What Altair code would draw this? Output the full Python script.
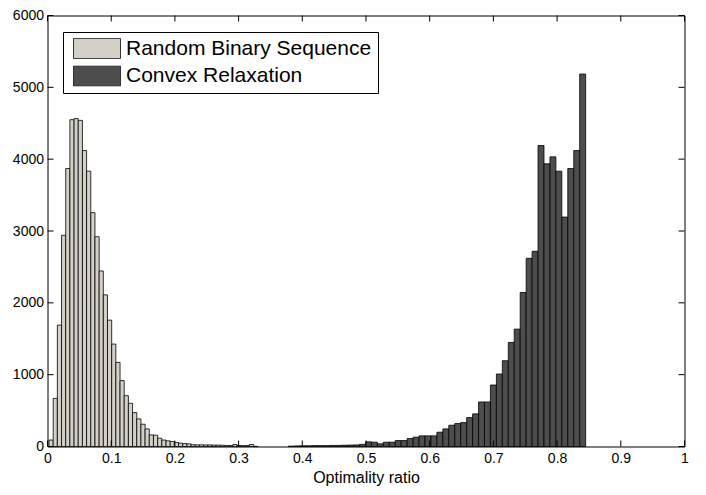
import altair as alt
import pandas as pd

# ---- data ----
series_names = ["Random Binary Sequence", "Convex Relaxation"]
series_colors = ["#d4d0c8", "#4d4d4d"]

light_start = 0.00235
light_width = 0.00656
light_counts = [90, 670, 1690, 2940, 3870, 4550, 4565, 4540, 4120, 3833,
                3255, 2921, 2444, 2111, 1759, 1426, 1171, 917, 708, 602,
                472, 384, 310, 245, 162, 157, 116, 90, 79, 70,
                56, 46, 40, 37, 25, 23, 23, 22, 22, 20,
                20, 18, 15, 14, 28, 14, 12, 14, 28, 2]

dark_start = 0.3778
dark_width = 0.00934
dark_counts = [5, 8, 10, 10, 12, 12, 12, 15, 15, 18,
               20, 22, 30, 65, 60, 37, 60, 60, 83, 83,
               111, 130, 148, 148, 148, 199, 245, 296, 319, 333,
               403, 454, 620, 620, 856, 1009, 1194, 1449, 1634, 2144,
               2620, 2718, 4190, 3935, 4032, 3833, 3194, 3870, 4120, 5185]

x_ticks = [0, 0.1, 0.2, 0.3, 0.4, 0.5, 0.6, 0.7, 0.8, 0.9, 1]
y_ticks = [0, 1000, 2000, 3000, 4000, 5000, 6000]

# ---- build table ----
rows = []
for name, start, width, counts in [
    (series_names[0], light_start, light_width, light_counts),
    (series_names[1], dark_start, dark_width, dark_counts),
]:
    for i, c in enumerate(counts):
        rows.append({"series": name, "x0": start + i * width,
                     "x1": start + (i + 1) * width, "count": c, "base": 0})
df = pd.DataFrame(rows)
df_xt = pd.DataFrame({"x0": x_ticks})
df_yt = pd.DataFrame({"count": y_ticks})

W, H = 637, 431
FONT = "Liberation Sans"

xscale = alt.Scale(domain=[0, 1], nice=False, zero=False)
yscale = alt.Scale(domain=[0, 6000], nice=False)
xaxis = alt.Axis(values=x_ticks, format="~g", ticks=False, domain=False,
                 grid=False, labelPadding=5, title="Optimality ratio",
                 titlePadding=4, labelFlush=False,
                 labelFont=FONT, labelFontSize=14, labelColor="black",
                 titleFont=FONT, titleFontSize=16, titleFontWeight="normal",
                 titleColor="black")
yaxis = alt.Axis(values=y_ticks, format="d", ticks=False, domain=False,
                 grid=False, labelPadding=4, title=None,
                 labelFont=FONT, labelFontSize=14, labelColor="black")

bars = alt.Chart(df).mark_rect(stroke="black", strokeWidth=0.8).encode(
    x=alt.X("x0:Q", scale=xscale, axis=xaxis),
    x2="x1:Q",
    y=alt.Y("count:Q", scale=yscale, axis=yaxis),
    y2="base:Q",
    color=alt.Color("series:N",
                    scale=alt.Scale(domain=series_names, range=series_colors),
                    legend=alt.Legend(orient="none", legendX=15.5, legendY=16.5,
                                      title=None,
                                      symbolType="M-1,-0.43L1,-0.43L1,0.43L-1,0.43Z",
                                      symbolSize=2209, symbolStrokeColor="#333333",
                                      symbolStrokeWidth=1, symbolOffset=4,
                                      clipHeight=21, rowPadding=5.5,
                                      labelFont=FONT, labelFontSize=21,
                                      labelColor="black", labelOffset=5,
                                      fillColor="white", strokeColor="black",
                                      padding=6, labelLimit=400)),
)

tick_bottom = alt.Chart(df_xt).mark_rule(color="black", strokeWidth=1).encode(
    x=alt.X("x0:Q", scale=xscale, axis=xaxis), y=alt.value(H), y2=alt.value(H - 6))
tick_top = alt.Chart(df_xt).mark_rule(color="black", strokeWidth=1).encode(
    x=alt.X("x0:Q", scale=xscale, axis=xaxis), y=alt.value(0), y2=alt.value(6))
tick_left = alt.Chart(df_yt).mark_rule(color="black", strokeWidth=1).encode(
    y=alt.Y("count:Q", scale=yscale, axis=yaxis), x=alt.value(0), x2=alt.value(6))
tick_right = alt.Chart(df_yt).mark_rule(color="black", strokeWidth=1).encode(
    y=alt.Y("count:Q", scale=yscale, axis=yaxis), x=alt.value(W), x2=alt.value(W - 6))

chart = alt.layer(bars, tick_bottom, tick_top, tick_left, tick_right).properties(
    width=W, height=H,
    background="white",
    autosize=alt.AutoSizeParams(type="none"),
    padding={"left": 39.5, "top": 7.5, "right": 13, "bottom": 40},
).configure_view(stroke="black", strokeWidth=1)

chart.save("out.html", embed_options={"renderer": "svg", "actions": False})
